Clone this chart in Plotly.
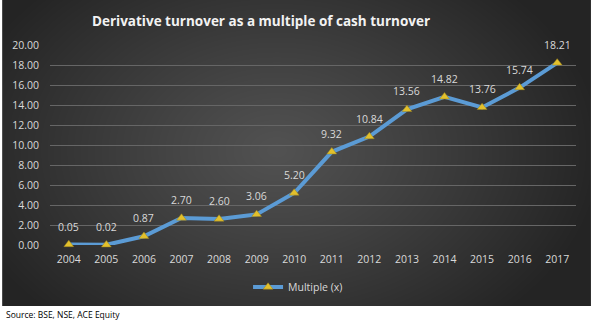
import base64
import struct
import zlib

import numpy as np
import plotly.graph_objects as go

# Derivative turnover relative to cash turnover, by year
years = ["2004", "2005", "2006", "2007", "2008", "2009", "2010",
         "2011", "2012", "2013", "2014", "2015", "2016", "2017"]
multiple = [0.05, 0.02, 0.87, 2.70, 2.60, 3.06, 5.20,
            9.32, 10.84, 13.56, 14.82, 13.76, 15.74, 18.21]
y_ticks = [0, 2, 4, 6, 8, 10, 12, 14, 16, 18, 20]

W, H = 591, 325
DARK_H = 306          # height of the dark chart panel
PLOT_L, PLOT_R = 48, 576
PLOT_T, PLOT_B = 45, 245


def png_uri(rgb):
    """Encode an HxWx3 uint8 array as a PNG data URI."""
    h, w, _ = rgb.shape
    raw = b"".join(b"\x00" + rgb[r].tobytes() for r in range(h))

    def chunk(tag, data):
        c = struct.pack(">I", len(data)) + tag + data
        return c + struct.pack(">I", zlib.crc32(tag + data) & 0xFFFFFFFF)

    png = (b"\x89PNG\r\n\x1a\n"
           + chunk(b"IHDR", struct.pack(">IIBBBBB", w, h, 8, 2, 0, 0, 0))
           + chunk(b"IDAT", zlib.compress(raw, 9))
           + chunk(b"IEND", b""))
    return "data:image/png;base64," + base64.b64encode(png).decode()


# Radial gradient for the dark panel: lighter centre, darker edges
yy, xx = np.mgrid[0:DARK_H, 0:W].astype(float)
cx, cy = 275.0, 150.0
r = np.sqrt(((xx - cx) / 330.0) ** 2 + ((yy - cy) / 230.0) ** 2)
t = np.clip(r, 0, 1) ** 1.1
centre, edge = 82.0, 36.0
val = centre + (edge - centre) * t
panel = np.clip(np.stack([val, val, val], axis=-1), 0, 255).astype(np.uint8)

pw = PLOT_R - PLOT_L
ph = PLOT_B - PLOT_T

fig = go.Figure()

fig.add_trace(go.Scatter(
    x=years, y=multiple, name="Multiple (x)",
    mode="lines+markers",
    line=dict(color="#5B9BD5", width=4),
    marker=dict(symbol="triangle-up", size=8.5, color="#E2C02C",
                line=dict(color="#9C8420", width=0.5)),
    cliponaxis=False,
))

# Value labels above each point (x given as category index)
for i, v in enumerate(multiple):
    fig.add_annotation(x=i, y=v, text=f"{v:.2f}", showarrow=False,
                       yshift=18, font=dict(family="Open Sans", size=10.5,
                                            color="#D9D9D9"))

fig.add_annotation(text="Source: BSE, NSE, ACE Equity", xref="paper", yref="paper",
                   x=(2 - PLOT_L) / pw, y=(PLOT_B - 314) / ph,
                   xanchor="left", yanchor="middle", showarrow=False,
                   font=dict(family="Open Sans", size=8.5, color="#000000"))

fig.update_layout(
    width=W, height=H,
    margin=dict(l=PLOT_L, r=W - PLOT_R, t=PLOT_T, b=H - PLOT_B),
    paper_bgcolor="#FFFFFF",
    plot_bgcolor="rgba(0,0,0,0)",
    images=[dict(source=png_uri(panel), xref="paper", yref="paper",
                 x=-PLOT_L / pw, y=PLOT_B / ph,
                 sizex=W / pw, sizey=DARK_H / ph,
                 xanchor="left", yanchor="top", sizing="stretch",
                 layer="below")],
    title=dict(text="<b>Derivative turnover as a multiple of cash turnover</b>",
               x=261 / W, xanchor="center", y=1 - 21 / H, yanchor="middle",
               font=dict(family="Open Sans", size=13.5, color="#F2F2F2")),
    xaxis=dict(type="category", range=[-0.5, len(years) - 0.5],
               showgrid=False, zeroline=False, showline=False,
               ticks="", ticklabelstandoff=6,
               tickfont=dict(family="Open Sans", size=10.5, color="#D9D9D9")),
    yaxis=dict(range=[0, 20], tickvals=y_ticks, tickformat=".2f",
               showgrid=True, gridcolor="#666666", gridwidth=1,
               zeroline=False, showline=False, ticks="",
               ticklabelstandoff=10,
               tickfont=dict(family="Open Sans", size=10.5, color="#D9D9D9")),
    showlegend=True,
    legend=dict(orientation="h", x=(297 - PLOT_L) / pw, xanchor="center",
                y=(PLOT_B - 287) / ph, yanchor="middle",
                bgcolor="rgba(0,0,0,0)",
                font=dict(family="Open Sans", size=10.5, color="#D9D9D9")),
)

fig.write_html("out.html")
